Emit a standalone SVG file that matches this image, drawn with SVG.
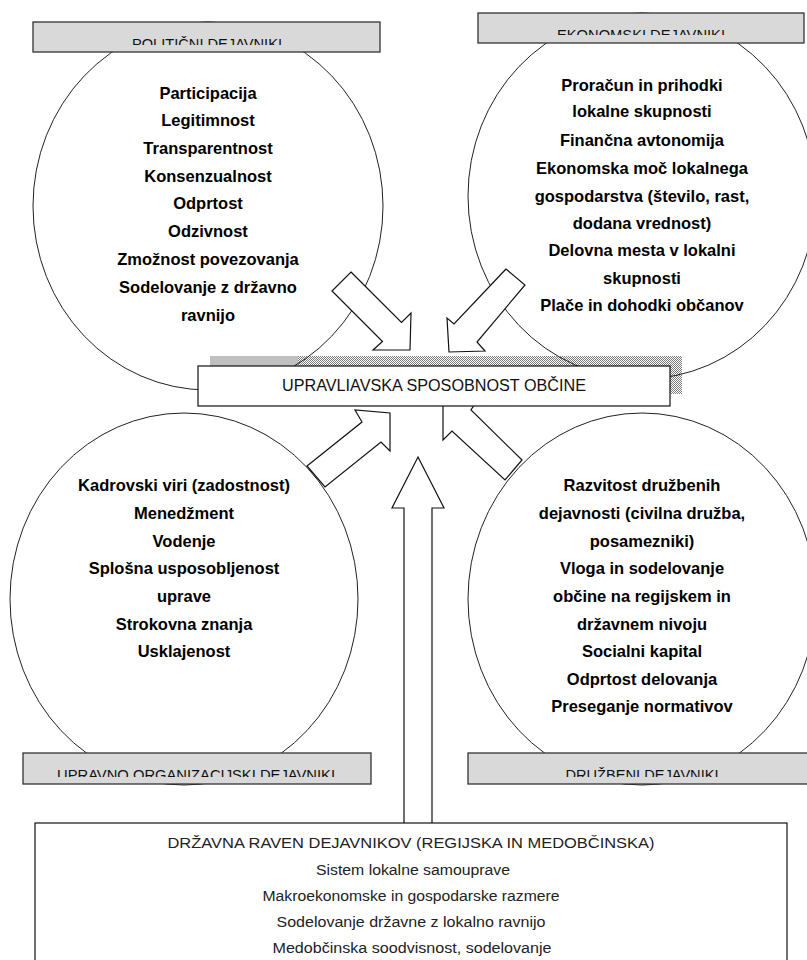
<svg xmlns="http://www.w3.org/2000/svg" width="807" height="960" viewBox="0 0 807 960">
<style>
.circ{fill:none;stroke:#222;stroke-width:1}
.arw{fill:#fff;stroke:#111;stroke-width:1.2;stroke-linejoin:miter}
.lbl{fill:#d9d9d9;stroke:#333;stroke-width:1.3}
.lt{font-family:"Liberation Sans","DejaVu Sans",sans-serif;font-size:15px;fill:#111;text-anchor:middle}
.bt{font-family:"Liberation Sans","DejaVu Sans",sans-serif;font-size:16.5px;font-weight:bold;fill:#000;text-anchor:middle}
.ct{font-family:"Liberation Sans","DejaVu Sans",sans-serif;font-size:16px;fill:#111;text-anchor:middle}
.st{font-family:"Liberation Sans","DejaVu Sans",sans-serif;font-size:14px;fill:#222;text-anchor:middle}
</style>
<defs>
<pattern id="dots" width="2" height="2" patternUnits="userSpaceOnUse">
<rect width="2" height="2" fill="#fff"/>
<rect width="1" height="1" fill="#7a7a7a"/>
<rect x="1" y="1" width="1" height="1" fill="#7a7a7a"/>
</pattern>
<clipPath id="c1"><rect x="33" y="22" width="347" height="23"/></clipPath>
<clipPath id="c2"><rect x="478" y="13" width="329" height="22"/></clipPath>
<clipPath id="c3"><rect x="23" y="753" width="348" height="24"/></clipPath>
<clipPath id="c4"><rect x="468" y="753" width="339" height="24"/></clipPath>
</defs>

<g id="shadow">
<rect x="210" y="356" width="472" height="38" fill="url(#dots)"/>
<rect x="210" y="356" width="88" height="10" fill="#c0c0c0"/>
</g>

<g id="politicni">
<ellipse class="circ" cx="208" cy="206" rx="175" ry="184"/>
<text class="bt" x="208" y="98.5">Participacija</text>
<text class="bt" x="208" y="126">Legitimnost</text>
<text class="bt" x="208" y="153.5">Transparentnost</text>
<text class="bt" x="208" y="181.5">Konsenzualnost</text>
<text class="bt" x="208" y="209">Odprtost</text>
<text class="bt" x="208" y="237">Odzivnost</text>
<text class="bt" x="208" y="265">Zmožnost povezovanja</text>
<text class="bt" x="208" y="292.5">Sodelovanje z državno</text>
<text class="bt" x="208" y="321">ravnijo</text>
</g>

<g id="ekonomski">
<ellipse class="circ" cx="642" cy="196" rx="174" ry="183"/>
<text class="bt" x="642" y="90.5">Proračun in prihodki</text>
<text class="bt" x="642" y="117">lokalne skupnosti</text>
<text class="bt" x="642" y="145.5">Finančna avtonomija</text>
<text class="bt" x="642" y="174">Ekonomska moč lokalnega</text>
<text class="bt" x="642" y="201.5">gospodarstva (število, rast,</text>
<text class="bt" x="642" y="229">dodana vrednost)</text>
<text class="bt" x="642" y="256">Delovna mesta v lokalni</text>
<text class="bt" x="642" y="284">skupnosti</text>
<text class="bt" x="642" y="311">Plače in dohodki občanov</text>
</g>

<g id="upravno">
<ellipse class="circ" cx="184" cy="599" rx="174" ry="186"/>
<text class="bt" x="184" y="490.5">Kadrovski viri (zadostnost)</text>
<text class="bt" x="184" y="519">Menedžment</text>
<text class="bt" x="184" y="546.5">Vodenje</text>
<text class="bt" x="184" y="574">Splošna usposobljenost</text>
<text class="bt" x="184" y="602">uprave</text>
<text class="bt" x="184" y="629.5">Strokovna znanja</text>
<text class="bt" x="184" y="657">Usklajenost</text>
</g>

<g id="druzbeni">
<ellipse class="circ" cx="642" cy="599" rx="174" ry="186"/>
<text class="bt" x="642" y="490.5">Razvitost družbenih</text>
<text class="bt" x="642" y="519">dejavnosti (civilna družba,</text>
<text class="bt" x="642" y="546.5">posamezniki)</text>
<text class="bt" x="642" y="574">Vloga in sodelovanje</text>
<text class="bt" x="642" y="602">občine na regijskem in</text>
<text class="bt" x="642" y="629.5">državnem nivoju</text>
<text class="bt" x="642" y="657">Socialni kapital</text>
<text class="bt" x="642" y="685">Odprtost delovanja</text>
<text class="bt" x="642" y="712">Preseganje normativov</text>
</g>

<g id="connectors">
<polygon class="arw" points="351,272 401.5,322.5 411,313 410,350 373,350 382.5,341.5 332,291"/>
<polygon class="arw" points="506,269 454,324 447,318 449,352 485,351 477,342 525,285"/>
<polygon class="arw" points="307,466 362,422 355,410 390,413 390,451 381,442 325,487"/>
<polygon class="arw" points="522,460 471,410 478,399 443,402 443,440 452,431 505,480"/>
<polygon class="arw" points="418,457 444,508 432,508 432,824 404,824 404,508 392,508"/>
</g>

<g id="upravljavska">
<rect x="198" y="366" width="472" height="40" fill="#fff" stroke="#111" stroke-width="1.2"/>
<text class="ct" x="434" y="391" textLength="304" lengthAdjust="spacingAndGlyphs">UPRAVLIAVSKA SPOSOBNOST OBČINE</text>
</g>

<g id="label-politicni">
<rect class="lbl" x="33" y="22" width="347" height="30"/>
<text class="lt" x="207" y="48.5" clip-path="url(#c1)" textLength="150" lengthAdjust="spacingAndGlyphs">POLITIČNI DEJAVNIKI</text>
</g>
<g id="label-ekonomski">
<rect class="lbl" x="478" y="13" width="326" height="30"/>
<text class="lt" x="641" y="39.5" clip-path="url(#c2)" textLength="168" lengthAdjust="spacingAndGlyphs">EKONOMSKI DEJAVNIKI</text>
</g>
<g id="label-upravno">
<rect class="lbl" x="23" y="753" width="348" height="31"/>
<text class="lt" x="196" y="780" clip-path="url(#c3)" textLength="278" lengthAdjust="spacingAndGlyphs">UPRAVNO ORGANIZACIJSKI DEJAVNIKI</text>
</g>
<g id="label-druzbeni">
<rect class="lbl" x="468" y="753" width="346" height="31"/>
<text class="lt" x="642" y="780" clip-path="url(#c4)" textLength="153" lengthAdjust="spacingAndGlyphs">DRUŽBENI DEJAVNIKI</text>
</g>

<g id="drzavna">
<rect x="35" y="823" width="752" height="150" fill="#fff" stroke="#111" stroke-width="1.2"/>
<text class="st" x="411" y="848" textLength="487" lengthAdjust="spacingAndGlyphs">DRŽAVNA RAVEN DEJAVNIKOV (REGIJSKA IN MEDOBČINSKA)</text>
<text class="st" x="413" y="875" textLength="194" lengthAdjust="spacingAndGlyphs">Sistem lokalne samouprave</text>
<text class="st" x="411" y="901" textLength="297" lengthAdjust="spacingAndGlyphs">Makroekonomske in gospodarske razmere</text>
<text class="st" x="411" y="927" textLength="269" lengthAdjust="spacingAndGlyphs">Sodelovanje državne z lokalno ravnijo</text>
<text class="st" x="412" y="953" textLength="279" lengthAdjust="spacingAndGlyphs">Medobčinska soodvisnost, sodelovanje</text>
</g>
</svg>
